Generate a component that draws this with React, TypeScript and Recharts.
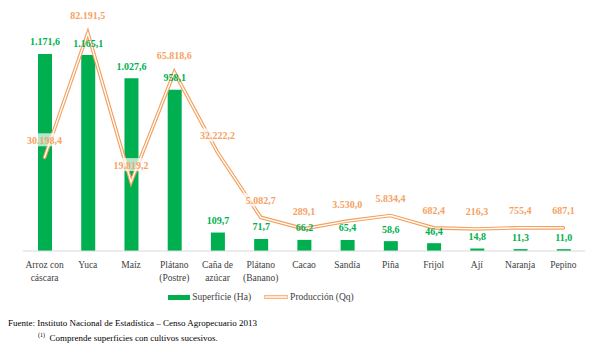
import { ComposedChart, Bar, Line, XAxis, YAxis, Legend, LabelList } from 'recharts';

const cultivos = [
  'Arroz con|cáscara',
  'Yuca',
  'Maíz',
  'Plátano|(Postre)',
  'Caña de|azúcar',
  'Plátano|(Banano)',
  'Cacao',
  'Sandía',
  'Piña',
  'Frijol',
  'Ají',
  'Naranja',
  'Pepino',
];
const superficie = [1171.6, 1165.1, 1027.6, 958.1, 109.7, 71.7, 66.2, 65.4, 58.6, 46.4, 14.8, 11.3, 11.0];
const produccion = [30198.4, 82191.5, 19819.2, 65818.6, 32222.2, 5082.7, 289.1, 3530.0, 5834.4, 682.4, 216.3, 755.4, 687.1];

const VERDE = '#00B050';
const NARANJA = '#F5A264';
const LINEA = '#F4A05E';
const FUENTE = 'Liberation Serif, Times New Roman, Tinos, DejaVu Serif, serif';

const data = cultivos.map((c, i) => ({ cultivo: c, sup: superficie[i], prod: produccion[i] }));

// formato es-ES: 1.171,6
const fmt = (v: number) => {
  const [ent, dec] = v.toFixed(1).split('.');
  return ent.replace(/\B(?=(\d{3})+(?!\d))/g, '.') + ',' + dec;
};

function CultivoTick({ x, y, payload }: any) {
  const lineas = String(payload.value).split('|');
  return (
    <text x={x} y={y} textAnchor="middle" fontSize={9.5} fill="#404040" style={{ fontFamily: FUENTE }}>
      {lineas.map((l, i) => (
        <tspan key={i} x={x} dy={i === 0 ? 15 : 12.5}>{l}</tspan>
      ))}
    </text>
  );
}

function SupLabel({ x, y, width, value }: any) {
  return (
    <text x={x + width / 2} y={y - 8.5} textAnchor="middle" fontSize={10} fontWeight="bold" fill={VERDE} style={{ fontFamily: FUENTE }}>
      {fmt(value)}
    </text>
  );
}

function ProdLabel({ x, y, value }: any) {
  const txt = fmt(value);
  const w = txt.length * 5 + 2;
  return (
    <g>
      <rect x={x - w / 2} y={y - 24} width={w} height={13} fill="#fff" fillOpacity={0.7} />
      <text x={x} y={y - 13.5} textAnchor="middle" fontSize={10} fontWeight="bold" fill={NARANJA} style={{ fontFamily: FUENTE }}>
        {txt}
      </text>
    </g>
  );
}

function Leyenda() {
  return (
    <div style={{ display: 'flex', justifyContent: 'center', alignItems: 'center', height: 16, paddingRight: 86, fontFamily: FUENTE, fontSize: 9.5, color: '#404040' }}>
      <span style={{ display: 'inline-block', width: 22, height: 5, background: VERDE, marginRight: 2 }} />
      <span>Superficie (Ha)</span>
      <svg width={24} height={6} style={{ marginLeft: 13, marginRight: 2 }}>
        <line x1={1} y1={3} x2={23} y2={3} stroke={LINEA} strokeWidth={3.5} strokeLinecap="round" />
        <line x1={1} y1={3} x2={23} y2={3} stroke="#fff" strokeWidth={1.3} strokeLinecap="round" />
      </svg>
      <span>Producción (Qq)</span>
    </div>
  );
}

export default function App() {
  return (
    <div style={{ position: 'absolute', left: 0, top: 0, width: 615, height: 351, background: '#fff', fontFamily: FUENTE }}>
      <ComposedChart width={615} height={351} data={data} margin={{ top: 15.5, right: 30, left: 23, bottom: 46 }}>
        <XAxis
          dataKey="cultivo"
          interval={0}
          tickLine={false}
          tickSize={0}
          height={38}
          axisLine={{ stroke: '#D9D9D9' }}
          tick={<CultivoTick />}
        />
        <YAxis yAxisId="sup" hide domain={[0, 1400]} />
        <YAxis yAxisId="prod" orientation="right" hide domain={[-9000, 89500]} />
        <Legend verticalAlign="bottom" content={() => <Leyenda />} />
        <Bar yAxisId="sup" dataKey="sup" fill={VERDE} barSize={14} isAnimationActive={false}>
          <LabelList dataKey="sup" content={<SupLabel />} />
        </Bar>
        <Line yAxisId="prod" dataKey="prod" stroke={LINEA} strokeWidth={3.6} dot={false} strokeLinecap="round" isAnimationActive={false} />
        <Line yAxisId="prod" dataKey="prod" stroke="#fff" strokeWidth={1.3} dot={false} strokeLinecap="round" isAnimationActive={false}>
          <LabelList dataKey="prod" content={<ProdLabel />} />
        </Line>
      </ComposedChart>
      <div style={{ position: 'absolute', left: 8, top: 317, fontSize: 9, color: '#000', lineHeight: '12px', whiteSpace: 'nowrap' }}>
        Fuente: Instituto Nacional de Estadística – Censo Agropecuario 2013
      </div>
      <div style={{ position: 'absolute', left: 38, top: 329, fontSize: 9, color: '#000', lineHeight: '12px', whiteSpace: 'nowrap' }}>
        <sup style={{ fontSize: 6 }}>(1)</sup>&nbsp; Comprende superficies con cultivos sucesivos.
      </div>
    </div>
  );
}
